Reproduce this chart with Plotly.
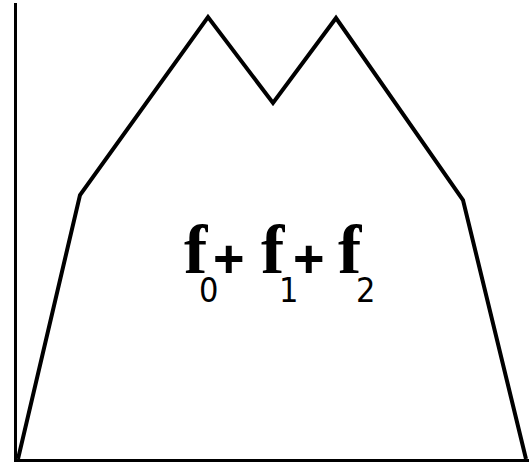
import plotly.graph_objects as go

W, H = 529, 466
# plot area in page pixels
L, T, B = 17, 3, 459

# outline of the summed curve (x from the axis origin, height above the baseline)
x_vals = [1, 63, 191, 256, 319, 446, 509]
y_vals = [0, 264, 442, 356, 441, 259, 0]

# label "f0+ f1+ f2" split into pieces
label_parts = ["f", "0", "+", "f", "1", "+", "f", "2"]
part_kind = ["f", "sub", "plus", "f", "sub", "plus", "f", "sub"]
part_px = [(196, 249), (208, 290), (229, 258), (273, 249),
           (288, 290), (309, 258), (350, 249), (365, 290)]

fonts = {
    "f": dict(family="Liberation Serif", size=70, color="black", weight="bold"),
    "sub": dict(family="DejaVu Sans Condensed, Liberation Sans", size=34, color="black"),
    "plus": dict(family="Liberation Sans", size=54, color="black", weight="bold"),
}

fig = go.Figure()
fig.add_trace(go.Scatter(
    x=x_vals, y=y_vals, mode="lines",
    line=dict(color="black", width=4),
    hoverinfo="skip", showlegend=False,
))

for txt, kind, (px, py) in zip(label_parts, part_kind, part_px):
    fig.add_annotation(
        text=txt, xref="paper", yref="paper",
        x=(px - L) / (W - L), y=(B - py) / (B - T),
        xanchor="center", yanchor="middle", showarrow=False,
        font=fonts[kind],
    )

fig.update_xaxes(range=[0, 512], showline=True, linecolor="black", linewidth=3,
                 showgrid=False, zeroline=False, showticklabels=False, ticks="")
fig.update_yaxes(range=[0, 456], showline=True, linecolor="black", linewidth=3,
                 showgrid=False, zeroline=False, showticklabels=False, ticks="")
fig.update_layout(
    width=W, height=H,
    margin=dict(l=L, r=0, t=T, b=H - B),
    plot_bgcolor="white", paper_bgcolor="white",
)

fig.write_html("out.html", config={"displayModeBar": False},
               post_script="document.body.style.margin='0';")
